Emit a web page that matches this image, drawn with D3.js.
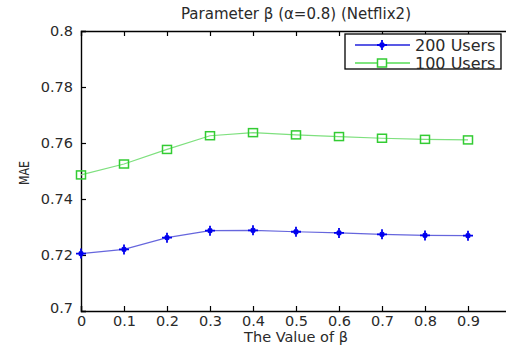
<!DOCTYPE html>
<html>
<head>
<meta charset="utf-8">
<script src="https://cdn.jsdelivr.net/npm/d3@7"></script>
<style>
  body { margin: 0; background: #fff; }
  text { font-family: "DejaVu Sans", Verdana, sans-serif; fill: #2a2a2a; }
</style>
</head>
<body>
<div id="chart"></div>
<script>
const betaValues = [0, 0.1, 0.2, 0.3, 0.4, 0.5, 0.6, 0.7, 0.8, 0.9];
const users200 = [0.7205, 0.722, 0.7262, 0.7287, 0.7288, 0.7283, 0.7279, 0.7274, 0.7270, 0.7269];
const users100 = [0.7486, 0.7525, 0.7577, 0.7626, 0.7637, 0.7629, 0.7623, 0.7617, 0.7613, 0.7611];
const xTicks = [0, 0.1, 0.2, 0.3, 0.4, 0.5, 0.6, 0.7, 0.8, 0.9];
const yTicks = [0.7, 0.72, 0.74, 0.76, 0.78, 0.8];
const seriesNames = ["200 Users", "100 Users"];

const width = 506;
const height = 352;
const margin = {top: 31, left: 81, right: -5, bottom: 41};

const svg = d3.select("#chart")
  .append("svg")
  .attr("width", width)
  .attr("height", height);

const xScale = d3.scaleLinear()
  .domain([0, 1])
  .range([margin.left, width - margin.right]);

const yScale = d3.scaleLinear()
  .domain([0.7, 0.8])
  .range([height - margin.bottom, margin.top]);

const fmt = d => String(+d.toFixed(2));

// axes, ticks pointing inward like matlab
svg.append("g")
  .attr("class", "axis")
  .attr("transform", `translate(0,${height - margin.bottom})`)
  .call(d3.axisBottom(xScale).tickValues(xTicks).tickSize(-5).tickPadding(5).tickFormat(fmt));

svg.append("g")
  .attr("class", "axis")
  .attr("transform", `translate(0,${margin.top})`)
  .call(d3.axisTop(xScale).tickValues(xTicks.slice(1)).tickSize(-5).tickFormat(""));

const yAxis = svg.append("g")
  .attr("class", "axis")
  .attr("transform", `translate(${margin.left},0)`)
  .call(d3.axisLeft(yScale).tickValues(yTicks).tickSize(-5).tickPadding(8).tickFormat(fmt));

svg.append("g")
  .attr("class", "axis")
  .attr("transform", `translate(${xScale(1)},0)`)
  .call(d3.axisRight(yScale).tickValues(yTicks).tickSize(-5).tickFormat(""));

svg.selectAll(".axis path").attr("stroke", "#000").attr("stroke-width", 1.4);
svg.selectAll(".axis line").attr("stroke", "#000").attr("stroke-width", 1.2);
svg.selectAll(".axis text").attr("font-size", 14.5).attr("fill", "#333")
  .attr("font-family", "DejaVu Sans, Verdana, sans-serif");

// the 0.7 label sits a bit higher in the original
yAxis.selectAll("text").filter(d => d === 0.7).attr("dy", "0.1em");

const line = d3.line()
  .x((d, i) => xScale(betaValues[i]))
  .y(d => yScale(d));

// 100 users (green squares)
svg.append("path")
  .datum(users100)
  .attr("d", line)
  .attr("fill", "none")
  .attr("stroke", "#7ee07e")
  .attr("stroke-width", 1.2);

svg.selectAll(".sq")
  .data(users100)
  .enter()
  .append("rect")
  .attr("x", (d, i) => xScale(betaValues[i]) - 4.5)
  .attr("y", d => yScale(d) - 4)
  .attr("width", 9)
  .attr("height", 8)
  .attr("fill", "none")
  .attr("stroke", "#33cc33")
  .attr("stroke-width", 1.5);

// 200 users (blue stars)
svg.append("path")
  .datum(users200)
  .attr("d", line)
  .attr("fill", "none")
  .attr("stroke", "#6666dd")
  .attr("stroke-width", 1.2);

function star(g, cx, cy) {
  g.append("path")
    .attr("d", `M${cx - 5},${cy}H${cx + 5}M${cx},${cy - 5}V${cy + 5}M${cx - 2},${cy - 2}L${cx + 2},${cy + 2}M${cx - 2},${cy + 2}L${cx + 2},${cy - 2}`)
    .attr("stroke", "#0000ee")
    .attr("stroke-width", 1.8)
    .attr("fill", "none");
}

const stars = svg.append("g");
users200.forEach((d, i) => star(stars, xScale(betaValues[i]), yScale(d)));

// legend
const legend = svg.append("g");
legend.append("rect")
  .attr("x", 345).attr("y", 34)
  .attr("width", 156).attr("height", 35)
  .attr("fill", "#fff").attr("stroke", "#000").attr("stroke-width", 1.3);

legend.append("line")
  .attr("x1", 355).attr("x2", 410).attr("y1", 45).attr("y2", 45)
  .attr("stroke", "#2222dd").attr("stroke-width", 1.3);
star(legend, 382, 45);
legend.append("line")
  .attr("x1", 355).attr("x2", 410).attr("y1", 63).attr("y2", 63)
  .attr("stroke", "#55dd55").attr("stroke-width", 1.3);
legend.append("rect")
  .attr("x", 377.5).attr("y", 59).attr("width", 9).attr("height", 8)
  .attr("fill", "#fff").attr("stroke", "#33cc33").attr("stroke-width", 1.5);

legend.selectAll(".ltext")
  .data(seriesNames)
  .enter()
  .append("text")
  .attr("x", 415)
  .attr("y", (d, i) => 51 + i * 18)
  .attr("font-size", 16)
  .text(d => d);

// title and axis labels
svg.append("text")
  .attr("x", 296).attr("y", 19)
  .attr("text-anchor", "middle")
  .attr("font-size", 15)
  .text("Parameter β (α=0.8) (Netflix2)");

svg.append("text")
  .attr("x", 296).attr("y", 342)
  .attr("text-anchor", "middle")
  .attr("font-size", 14.5)
  .text("The Value of β");

svg.append("text")
  .attr("x", -173).attr("y", 29)
  .attr("text-anchor", "middle")
  .attr("transform", "rotate(-90)")
  .attr("font-size", 14)
  .attr("textLength", 24)
  .attr("lengthAdjust", "spacingAndGlyphs")
  .text("MAE");
</script>
</body>
</html>
